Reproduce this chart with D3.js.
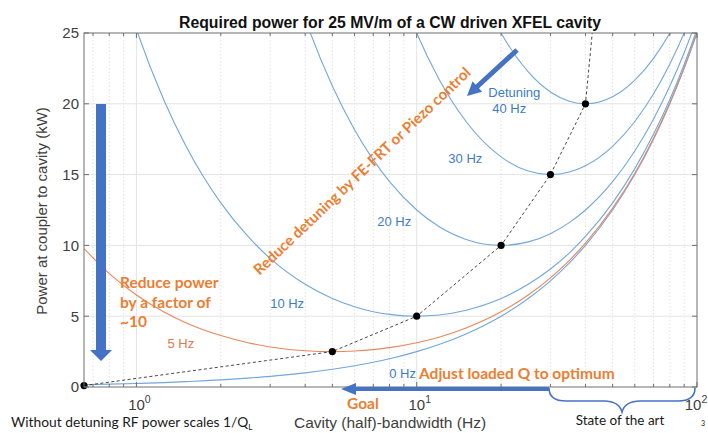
<!DOCTYPE html>
<html lang="en">
<head>
<meta charset="utf-8">
<title>Required power for 25 MV/m of a CW driven XFEL cavity</title>
<script src="https://d3js.org/d3.v7.min.js"></script>
<style>
  body { margin: 0; background: #fff; }
  svg { display: block; }
  .axis-text { font-family: "Liberation Sans", Arial, sans-serif; fill: #404040; }
  .curve-label { font-family: "Liberation Sans", Arial, sans-serif; font-size: 13px; }
  .note { font-family: Lato, "Open Sans", sans-serif; font-weight: 700; fill: #ed7d31; }
  .slide-text { font-family: Lato, "Open Sans", sans-serif; fill: #1a1a1a; }
</style>
</head>
<body>
<script>
// cavity half-bandwidth grid (Hz), shared by all curves
const bandwidth = [0.65, 0.8, 1, 1.25, 1.5, 2, 2.5, 3, 4, 5, 6, 7, 8, 10, 12, 15, 20, 25, 30, 35, 40, 50, 60, 70, 80, 90, 100];

// power at coupler (kW) for each detuning (null = far above 25 kW)
const power0  = [0.16, 0.2, 0.25, 0.31, 0.38, 0.5, 0.63, 0.75, 1, 1.25, 1.5, 1.75, 2, 2.5, 3, 3.75, 5, 6.25, 7.5, 8.75, 10, 12.5, 15, 17.5, 20, 22.5, 25];
const power5  = [9.78, 8.01, 6.5, 5.31, 4.54, 3.63, 3.13, 2.83, 2.56, 2.5, 2.54, 2.64, 2.78, 3.13, 3.52, 4.17, 5.31, 6.5, 7.71, 8.93, 10.16, 12.63, 15.1, 17.59, 20.08, 22.57, 25.06];
const power10 = [38.6, 31.45, 25.25, 20.31, 17.04, 13, 10.63, 9.08, 7.25, 6.25, 5.67, 5.32, 5.13, 5, 5.08, 5.42, 6.25, 7.25, 8.33, 9.46, 10.63, 13, 15.42, 17.86, 20.31, 22.78, 25.25];
const power20 = [null, null, null, null, null, null, null, 34.08, 26, 21.25, 18.17, 16.04, 14.5, 12.5, 11.33, 10.42, 10, 10.25, 10.83, 11.61, 12.5, 14.5, 16.67, 18.93, 21.25, 23.61, 26];
const power30 = [null, null, null, null, null, null, null, null, null, null, null, 33.89, 30.13, 25, 21.75, 18.75, 16.25, 15.25, 15, 15.18, 15.63, 17, 18.75, 20.71, 22.81, 25, 27.25];
const power40 = [null, null, null, null, null, null, null, null, null, null, null, null, null, null, 36.33, 30.42, 25, 22.25, 20.83, 20.18, 20, 20.5, 21.67, 23.21, 25, 26.94, 29];

const detuningNames = ["0 Hz", "5 Hz", "10 Hz", "20 Hz", "30 Hz", "40 Hz"];
const powerSeries = [power0, power5, power10, power20, power30, power40];
const curveColors = ["#72a7dc", "#e8875c", "#72a7dc", "#72a7dc", "#72a7dc", "#72a7dc"];

// optimum (minimum power) points, joined by the dashed line
const optimumBw = [0.65, 5, 10, 20, 30, 40, 50];
const optimumP  = [0.1, 2.5, 5, 10, 15, 20, 40];
const optimumDots = 6;

// curve labels: text, bandwidth (Hz), power (kW)
const labelText = ["Detuning", "40 Hz", "30 Hz", "20 Hz", "10 Hz", "5 Hz", "0 Hz"];
const labelBw   = [18.0, 18.6, 12.97, 7.23, 3.0, 1.29, 7.98];
const labelP    = [20.83, 19.7, 16.17, 11.72, 5.93, 3.11, 0.99];
const labelColor = ["#3d7cc9", "#3d7cc9", "#3d7cc9", "#3d7cc9", "#3d7cc9", "#e0784a", "#3d7cc9"];

const yTicks = [0, 5, 10, 15, 20, 25];
const xMajor = [1, 10, 100];
const xMajorExp = ["0", "1", "2"];

const W = 708, H = 433;
const x = d3.scaleLog().domain([0.65, 100]).range([84, 697]);
const y = d3.scaleLinear().domain([0, 25]).range([387, 33]);
const [x0, x1] = x.range();
const [yb, yt] = y.range();

const svg = d3.select("body").append("svg")
    .attr("width", W).attr("height", H)
    .attr("viewBox", `0 0 ${W} ${H}`);

svg.append("clipPath").attr("id", "plot-clip")
  .append("rect").attr("x", x0).attr("y", yt).attr("width", x1 - x0).attr("height", yb - yt);

// grid
const minorX = x.ticks().filter(v => !xMajor.includes(v));
svg.append("g").selectAll("line").data(minorX).join("line")
    .attr("x1", d => x(d)).attr("x2", d => x(d))
    .attr("y1", yt).attr("y2", yb)
    .attr("stroke", "#e2e2e2").attr("stroke-dasharray", "1.5,2");
svg.append("g").selectAll("line").data([1, 10]).join("line")
    .attr("x1", d => x(d)).attr("x2", d => x(d))
    .attr("y1", yt).attr("y2", yb)
    .attr("stroke", "#e4e4e4");
svg.append("g").selectAll("line").data(yTicks.slice(1, -1)).join("line")
    .attr("x1", x0).attr("x2", x1)
    .attr("y1", d => y(d)).attr("y2", d => y(d))
    .attr("stroke", "#e4e4e4");

// curves
const line = d3.line()
    .defined(d => d[1] != null)
    .x(d => x(d[0])).y(d => y(d[1]))
    .curve(d3.curveMonotoneX);

const plot = svg.append("g").attr("clip-path", "url(#plot-clip)");

plot.selectAll("path.curve")
  .data(powerSeries.map((vals, i) => ({ name: detuningNames[i], color: curveColors[i], pts: bandwidth.map((b, j) => [b, vals[j]]) })))
  .join("path")
    .attr("class", "curve")
    .attr("fill", "none")
    .attr("stroke", d => d.color)
    .attr("stroke-width", 1.1)
    .attr("d", d => line(d.pts));

const optimum = optimumBw.map((b, i) => [b, optimumP[i]]);
plot.append("path")
    .attr("fill", "none").attr("stroke", "#333").attr("stroke-width", 0.9)
    .attr("stroke-dasharray", "3,2.5")
    .attr("d", d3.line().x(d => x(d[0])).y(d => y(d[1]))(optimum));

svg.append("g").selectAll("circle").data(optimum.slice(0, optimumDots)).join("circle")
    .attr("cx", d => x(d[0])).attr("cy", d => y(d[1])).attr("r", 3.6)
    .attr("fill", "#000");

// box and ticks
const axisColor = "#6e6e6e";
svg.append("rect").attr("x", x0).attr("y", yt).attr("width", x1 - x0).attr("height", yb - yt)
    .attr("fill", "none").attr("stroke", axisColor).attr("stroke-width", 1);

const allX = x.ticks();
const tickLen = d => xMajor.includes(d) ? 5 : 3;
svg.append("g").selectAll("line").data(allX).join("line")
    .attr("x1", d => x(d)).attr("x2", d => x(d))
    .attr("y1", yb).attr("y2", d => yb - tickLen(d))
    .attr("stroke", axisColor);
svg.append("g").selectAll("line").data(allX).join("line")
    .attr("x1", d => x(d)).attr("x2", d => x(d))
    .attr("y1", yt).attr("y2", d => yt + tickLen(d))
    .attr("stroke", axisColor);
svg.append("g").selectAll("line").data(yTicks).join("line")
    .attr("x1", x0).attr("x2", x0 + 5)
    .attr("y1", d => y(d)).attr("y2", d => y(d))
    .attr("stroke", axisColor);
svg.append("g").selectAll("line").data(yTicks).join("line")
    .attr("x1", x1).attr("x2", x1 - 5)
    .attr("y1", d => y(d)).attr("y2", d => y(d))
    .attr("stroke", axisColor);

// tick labels
svg.append("g").selectAll("text").data(yTicks).join("text")
    .attr("class", "axis-text")
    .attr("x", x0 - 5).attr("y", d => y(d)).attr("dy", "0.36em")
    .attr("text-anchor", "end").attr("font-size", 15)
    .text(d => d);

const xl = svg.append("g").selectAll("text").data(xMajor).join("text")
    .attr("class", "axis-text")
    .attr("x", d => x(d) + (d === 100 ? -1 : 3)).attr("y", 410)
    .attr("text-anchor", "middle").attr("font-size", 15);
xl.append("tspan").text("10");
xl.append("tspan").attr("dy", -7).attr("font-size", 10.5).text((d, i) => xMajorExp[i]);

// axis titles
svg.append("text").attr("class", "axis-text")
    .attr("x", 390).attr("y", 428).attr("text-anchor", "middle").attr("font-size", 15.5)
    .text("Cavity (half)-bandwidth (Hz)");
svg.append("text").attr("class", "axis-text")
    .attr("transform", "translate(47,211) rotate(-90)")
    .attr("text-anchor", "middle").attr("font-size", 15)
    .text("Power at coupler to cavity (kW)");
svg.append("text")
    .attr("x", 390).attr("y", 28).attr("text-anchor", "middle")
    .attr("font-family", "'Liberation Sans', Arial, sans-serif")
    .attr("font-weight", 700).attr("font-size", 15.8).attr("fill", "#111")
    .text("Required power for 25 MV/m of a CW driven XFEL cavity");

// curve labels
svg.append("g").selectAll("text").data(labelText).join("text")
    .attr("class", "curve-label")
    .attr("x", (d, i) => x(labelBw[i])).attr("y", (d, i) => y(labelP[i]))
    .attr("dy", "0.35em")
    .attr("fill", (d, i) => labelColor[i])
    .text(d => d);

// slide annotations
const blue = "#4472c4";
svg.append("path")
    .attr("d", "M96,104 L106,104 L106,350 L112,350 L101,361 L90,350 L96,350 Z")
    .attr("fill", blue);

function arrow(xa, ya, xb, yb2, w, hl, hw) {
  const dx = xb - xa, dy = yb2 - ya, L = Math.hypot(dx, dy);
  const ux = dx / L, uy = dy / L, nx = -uy, ny = ux;
  const bx = xb - ux * hl, by = yb2 - uy * hl;
  const p = [
    [xa + nx * w / 2, ya + ny * w / 2], [bx + nx * w / 2, by + ny * w / 2],
    [bx + nx * hw / 2, by + ny * hw / 2], [xb, yb2],
    [bx - nx * hw / 2, by - ny * hw / 2], [bx - nx * w / 2, by - ny * w / 2],
    [xa - nx * w / 2, ya - ny * w / 2]
  ];
  return "M" + p.map(q => q.join(",")).join("L") + "Z";
}
svg.append("path").attr("d", arrow(517, 50, 467, 96, 5, 14, 14)).attr("fill", blue);
svg.append("path").attr("d", arrow(549, 389, 341, 389, 4, 15, 12)).attr("fill", blue);
svg.append("path")
    .attr("d", "M549,388 C549,398 556,401 566,401 L604,401 C614,401 620,405 622,412 C624,405 630,401 640,401 L678,401 C688,401 695,398 695,388")
    .attr("fill", "none").attr("stroke", blue).attr("stroke-width", 1.6);

svg.append("text").attr("class", "note")
    .attr("transform", "translate(362,171) rotate(-43.6)")
    .attr("text-anchor", "middle").attr("dy", "0.35em").attr("font-size", 15)
    .text("Reduce detuning by FE-FRT or Piezo control");

const rp = svg.append("text").attr("class", "note").attr("font-size", 15.5);
["Reduce power", "by a factor of", "~10"].forEach((t, i) =>
  rp.append("tspan").attr("x", 120).attr("y", 288 + i * 19.5).text(t));

svg.append("text").attr("class", "note").attr("font-size", 15.5)
    .attr("x", 419).attr("y", 379).text("Adjust loaded Q to optimum");
svg.append("text").attr("class", "note").attr("font-size", 15.5)
    .attr("x", 347).attr("y", 409).text("Goal");

const wd = svg.append("text").attr("class", "slide-text").attr("font-size", 13.8)
    .attr("x", 11).attr("y", 427);
wd.append("tspan").text("Without detuning RF power scales 1/Q");
wd.append("tspan").attr("dy", 3).attr("font-size", 8).text("L");

svg.append("text").attr("class", "slide-text").attr("font-size", 13.5)
    .attr("x", 620).attr("y", 425).attr("text-anchor", "middle")
    .text("State of the art");
svg.append("text").attr("class", "slide-text").attr("font-size", 7).attr("fill", "#999")
    .attr("x", 701).attr("y", 426).text("3");
</script>
</body>
</html>
